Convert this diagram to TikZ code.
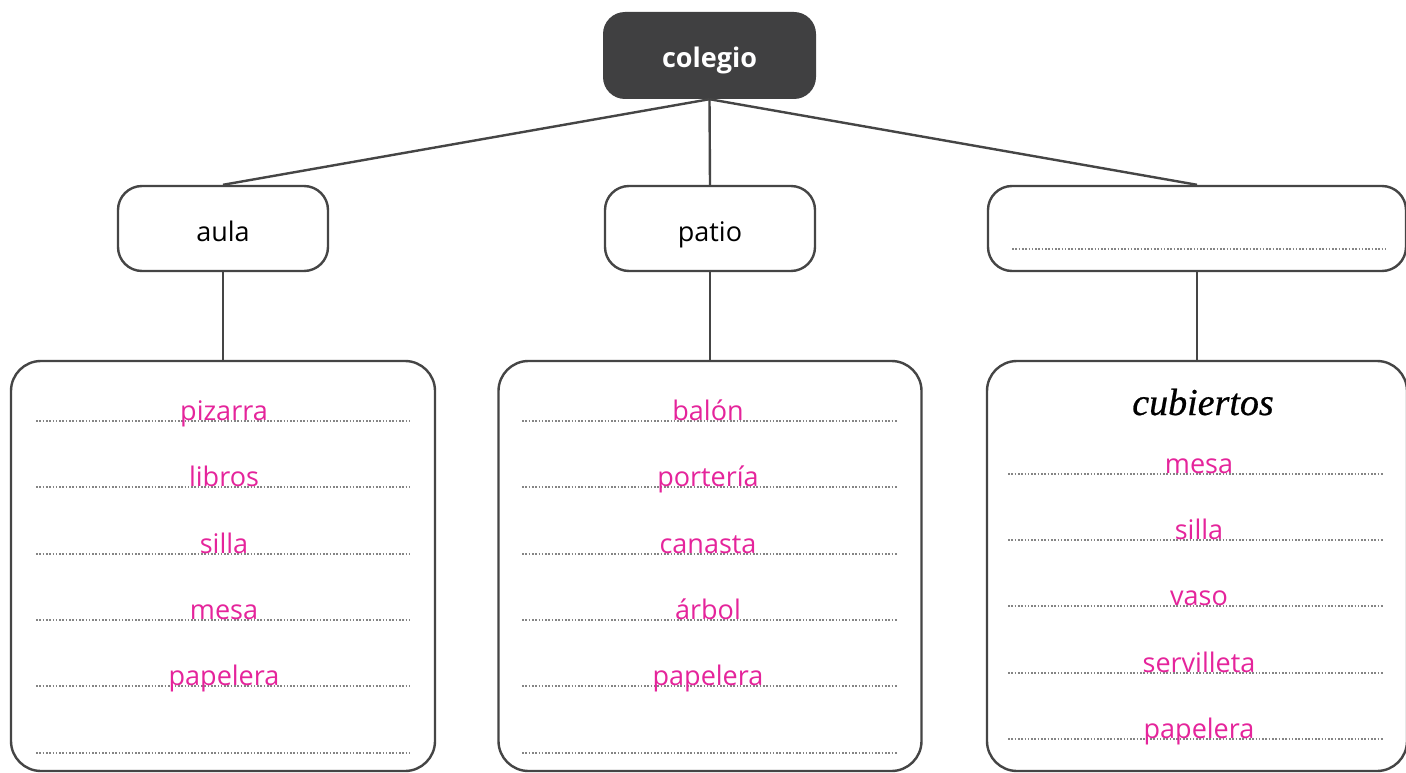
\documentclass[tikz,border=0pt]{standalone}
\usepackage{fontspec}
\setmainfont{Open Sans}
\newfontfamily\cubfont[ItalicFeatures={FakeBold=0.6}]{Liberation Serif}
\definecolor{dark}{HTML}{404041}
\definecolor{edge}{HTML}{454545}
\definecolor{pinkw}{HTML}{E5249B}
\definecolor{dotc}{HTML}{858585}
\tikzset{
 topbox/.style={draw=edge, line width=2.4pt, rounded corners=24pt, minimum width=210pt, minimum height=85pt, inner sep=0pt, text height=25pt, text depth=0pt, font=\fontsize{27}{30}\selectfont},
 rootbox/.style={fill=dark, draw=none, rounded corners=22pt, minimum width=213pt, minimum height=87pt, inner sep=0pt, text height=25pt, text depth=0pt, text=white, font=\fontsize{27}{30}\selectfont\bfseries},
 listbox/.style={draw=edge, line width=2.4pt, rounded corners=30pt, minimum width=424pt, minimum height=410pt, inner sep=0pt},
 dotline/.style={draw=dotc, line width=2pt, dash pattern=on 1.6pt off 1.7pt},
 word/.style={text=pinkw, anchor=base, inner sep=0pt, font=\fontsize{27}{30}\selectfont},
 link/.style={draw=edge, line width=2.4pt},
}
\begin{document}
\begin{tikzpicture}[x=1pt,y=-1pt]
\useasboundingbox (0,0) rectangle (1406,773);
\fill[white] (0,0) rectangle (1406,773);
% nodes
\node[rootbox] (root) at (709.5,55.5) {colegio};
\node[topbox] (aula) at (223,228.5) {aula};
\node[topbox] (patio) at (710,228.5) {patio};
\node[topbox, minimum width=418pt] (third) at (1197,228.5) {};
\node[listbox] (la) at (223,566) {};
\node[listbox, minimum width=423pt] (lb) at (710,566) {};
\node[listbox, minimum width=420pt] (lc) at (1197,566) {};
% connectors
\draw[link] (root.south) -- (aula.north);
\draw[link] (root.south) -- (patio.north);
\draw[link] (root.south) -- (third.north);
\draw[link] (aula.south) -- (la.north);
\draw[link] (patio.south) -- (lb.north);
\draw[link] (third.south) -- (lc.north);
% blank line in third box
\draw[dotline] (1012,249) -- (1385,249);
% left list
\foreach \y/\w [count=\i] in {420.5/pizarra, 487/libros, 553.5/silla, 620/mesa, 686/papelera}{
  \draw[dotline] (36,\y) -- (410,\y);
  \node[word] (wa\i) at (224,\y-0.5) {\w};
}
\draw[dotline] (36,752.5) -- (410,752.5);
% middle list
\foreach \y/\w [count=\i] in {420.5/balón, 487/portería, 553.5/canasta, 620/árbol, 686/papelera}{
  \draw[dotline] (522,\y) -- (897,\y);
  \node[word] (wb\i) at (708,\y-0.5) {\w};
}
\draw[dotline] (522,752.5) -- (897,752.5);
% right list
\node[anchor=base, inner sep=0pt, font=\cubfont\itshape\fontsize{38}{40}\selectfont] (cub) at (1203,415) {cubiertos};
\foreach \y/\w [count=\i] in {473.5/mesa, 540/silla, 606/vaso, 672.5/servilleta, 739/papelera}{
  \draw[dotline] (1008,\y) -- (1383,\y);
  \node[word] (wc\i) at (1199,\y-0.5) {\w};
}
\end{tikzpicture}
\end{document}
